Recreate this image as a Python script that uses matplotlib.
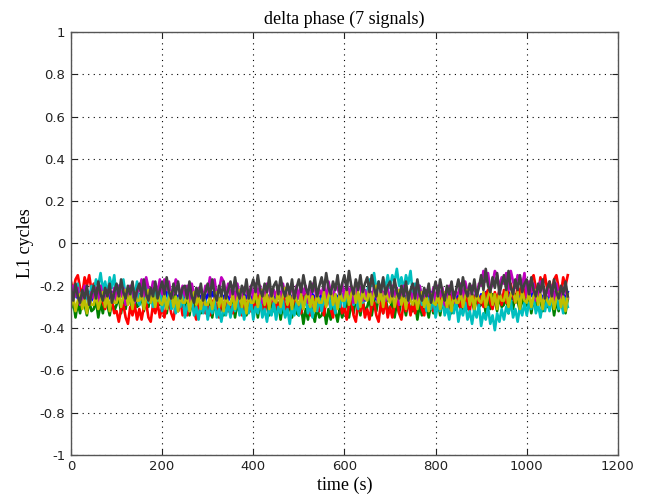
import matplotlib
matplotlib.use("Agg")
import matplotlib.pyplot as plt
import numpy as np

# one value every 5 s, 0 .. 1090 s, in L1 cycles
time_s = np.arange(0, 1091, 5)

sig_blue = [
    -0.24, -0.27, -0.23, -0.26, -0.25, -0.28, -0.24, -0.26, -0.23, -0.27, -0.24, -0.26, -0.23, -0.27, -0.25, -0.28, -0.24, -0.26, -0.23, -0.27,
    -0.24, -0.27, -0.23, -0.26, -0.25, -0.28, -0.24, -0.26, -0.23, -0.27, -0.24, -0.26, -0.23, -0.27, -0.25, -0.28, -0.24, -0.26, -0.23, -0.27,
    -0.24, -0.27, -0.23, -0.26, -0.25, -0.28, -0.24, -0.26, -0.23, -0.27, -0.24, -0.26, -0.23, -0.27, -0.25, -0.28, -0.24, -0.26, -0.23, -0.27,
    -0.24, -0.27, -0.23, -0.26, -0.25, -0.28, -0.24, -0.26, -0.23, -0.27, -0.24, -0.26, -0.23, -0.27, -0.25, -0.28, -0.24, -0.26, -0.23, -0.27,
    -0.24, -0.27, -0.23, -0.26, -0.25, -0.28, -0.24, -0.26, -0.23, -0.27, -0.24, -0.26, -0.23, -0.27, -0.25, -0.28, -0.24, -0.26, -0.23, -0.27,
    -0.24, -0.27, -0.23, -0.26, -0.25, -0.28, -0.24, -0.26, -0.23, -0.27, -0.24, -0.26, -0.23, -0.27, -0.25, -0.28, -0.24, -0.26, -0.23, -0.27,
    -0.24, -0.27, -0.23, -0.26, -0.25, -0.28, -0.24, -0.26, -0.23, -0.27, -0.24, -0.26, -0.23, -0.27, -0.25, -0.28, -0.24, -0.26, -0.23, -0.27,
    -0.24, -0.27, -0.23, -0.26, -0.25, -0.28, -0.24, -0.26, -0.23, -0.27, -0.24, -0.26, -0.23, -0.27, -0.25, -0.28, -0.24, -0.26, -0.23, -0.27,
    -0.24, -0.27, -0.23, -0.26, -0.25, -0.28, -0.24, -0.26, -0.23, -0.27, -0.24, -0.26, -0.23, -0.27, -0.25, -0.28, -0.24, -0.26, -0.23, -0.27,
    -0.24, -0.27, -0.23, -0.26, -0.25, -0.28, -0.24, -0.26, -0.23, -0.27, -0.24, -0.26, -0.23, -0.27, -0.25, -0.28, -0.24, -0.26, -0.23, -0.27,
    -0.24, -0.27, -0.23, -0.26, -0.25, -0.28, -0.24, -0.26, -0.23, -0.27, -0.24, -0.26, -0.23, -0.27, -0.25, -0.28, -0.24, -0.26, -0.23,
]
sig_green = [
    -0.31, -0.27, -0.35, -0.28, -0.33, -0.26, -0.29, -0.34, -0.27, -0.32, -0.31, -0.27, -0.35, -0.28, -0.33, -0.26, -0.29, -0.34, -0.27, -0.32,
    -0.29, -0.25, -0.33, -0.26, -0.31, -0.24, -0.27, -0.32, -0.25, -0.30, -0.29, -0.25, -0.32, -0.26, -0.30, -0.24, -0.28, -0.31, -0.25, -0.29,
    -0.29, -0.25, -0.33, -0.26, -0.31, -0.24, -0.27, -0.32, -0.25, -0.30, -0.30, -0.26, -0.34, -0.27, -0.32, -0.25, -0.28, -0.33, -0.26, -0.31,
    -0.31, -0.27, -0.35, -0.28, -0.33, -0.26, -0.29, -0.34, -0.27, -0.32, -0.31, -0.27, -0.35, -0.28, -0.33, -0.26, -0.29, -0.34, -0.27, -0.32,
    -0.31, -0.27, -0.35, -0.28, -0.33, -0.26, -0.29, -0.34, -0.27, -0.32, -0.32, -0.28, -0.36, -0.29, -0.34, -0.27, -0.30, -0.35, -0.28, -0.33,
    -0.34, -0.30, -0.38, -0.31, -0.36, -0.29, -0.32, -0.37, -0.30, -0.35, -0.34, -0.30, -0.38, -0.31, -0.36, -0.29, -0.32, -0.37, -0.30, -0.35,
    -0.31, -0.27, -0.35, -0.28, -0.33, -0.26, -0.29, -0.34, -0.27, -0.32, -0.30, -0.26, -0.34, -0.27, -0.32, -0.25, -0.28, -0.33, -0.26, -0.31,
    -0.31, -0.27, -0.35, -0.28, -0.33, -0.26, -0.29, -0.34, -0.27, -0.32, -0.32, -0.28, -0.36, -0.29, -0.34, -0.27, -0.30, -0.35, -0.28, -0.33,
    -0.30, -0.26, -0.34, -0.27, -0.32, -0.25, -0.28, -0.33, -0.26, -0.31, -0.29, -0.25, -0.33, -0.26, -0.31, -0.24, -0.27, -0.32, -0.25, -0.30,
    -0.29, -0.25, -0.33, -0.26, -0.31, -0.24, -0.27, -0.32, -0.25, -0.30, -0.29, -0.25, -0.33, -0.26, -0.31, -0.24, -0.27, -0.32, -0.25, -0.30,
    -0.29, -0.25, -0.33, -0.26, -0.31, -0.24, -0.27, -0.32, -0.25, -0.30, -0.30, -0.26, -0.34, -0.27, -0.32, -0.25, -0.28, -0.33, -0.26,
]
sig_red = [
    -0.18, -0.23, -0.17, -0.15, -0.21, -0.24, -0.16, -0.20, -0.15, -0.22, -0.19, -0.25, -0.22, -0.21, -0.28, -0.31, -0.26, -0.30, -0.27, -0.33,
    -0.32, -0.37, -0.31, -0.29, -0.35, -0.38, -0.30, -0.34, -0.29, -0.36, -0.31, -0.36, -0.30, -0.28, -0.35, -0.37, -0.29, -0.33, -0.28, -0.35,
    -0.30, -0.35, -0.29, -0.27, -0.33, -0.36, -0.28, -0.32, -0.27, -0.34, -0.30, -0.34, -0.28, -0.26, -0.32, -0.36, -0.27, -0.31, -0.26, -0.33,
    -0.29, -0.34, -0.28, -0.26, -0.31, -0.35, -0.27, -0.30, -0.25, -0.32, -0.28, -0.33, -0.27, -0.25, -0.31, -0.34, -0.26, -0.30, -0.25, -0.32,
    -0.27, -0.32, -0.26, -0.24, -0.30, -0.33, -0.25, -0.29, -0.24, -0.31, -0.27, -0.32, -0.26, -0.24, -0.30, -0.33, -0.25, -0.29, -0.24, -0.31,
    -0.28, -0.33, -0.26, -0.24, -0.31, -0.34, -0.25, -0.29, -0.24, -0.32, -0.28, -0.34, -0.27, -0.26, -0.31, -0.35, -0.27, -0.30, -0.26, -0.33,
    -0.30, -0.36, -0.29, -0.27, -0.34, -0.37, -0.28, -0.32, -0.27, -0.35, -0.31, -0.36, -0.29, -0.28, -0.34, -0.37, -0.28, -0.33, -0.27, -0.35,
    -0.30, -0.35, -0.29, -0.27, -0.33, -0.36, -0.28, -0.32, -0.27, -0.34, -0.28, -0.33, -0.27, -0.25, -0.31, -0.34, -0.26, -0.30, -0.25, -0.32,
    -0.26, -0.31, -0.25, -0.23, -0.29, -0.32, -0.24, -0.28, -0.23, -0.30, -0.26, -0.31, -0.25, -0.23, -0.29, -0.32, -0.24, -0.28, -0.23, -0.30,
    -0.25, -0.30, -0.24, -0.22, -0.28, -0.31, -0.23, -0.27, -0.22, -0.29, -0.22, -0.28, -0.21, -0.19, -0.25, -0.28, -0.20, -0.24, -0.19, -0.26,
    -0.18, -0.23, -0.17, -0.15, -0.21, -0.24, -0.16, -0.20, -0.15, -0.22, -0.18, -0.23, -0.17, -0.15, -0.21, -0.24, -0.16, -0.20, -0.15,
]
sig_cyan = [
    -0.28, -0.22, -0.25, -0.19, -0.27, -0.23, -0.29, -0.22, -0.26, -0.20, -0.23, -0.17, -0.20, -0.14, -0.22, -0.18, -0.24, -0.16, -0.21, -0.15,
    -0.26, -0.20, -0.23, -0.17, -0.25, -0.21, -0.27, -0.20, -0.24, -0.18, -0.29, -0.23, -0.26, -0.20, -0.28, -0.24, -0.30, -0.23, -0.27, -0.21,
    -0.32, -0.26, -0.29, -0.23, -0.31, -0.27, -0.33, -0.26, -0.30, -0.24, -0.35, -0.29, -0.32, -0.26, -0.34, -0.30, -0.36, -0.29, -0.33, -0.27,
    -0.36, -0.30, -0.33, -0.27, -0.35, -0.31, -0.37, -0.30, -0.34, -0.28, -0.35, -0.29, -0.32, -0.26, -0.34, -0.30, -0.36, -0.29, -0.33, -0.27,
    -0.36, -0.30, -0.33, -0.27, -0.35, -0.31, -0.37, -0.30, -0.34, -0.28, -0.36, -0.30, -0.33, -0.27, -0.35, -0.31, -0.38, -0.30, -0.34, -0.28,
    -0.34, -0.28, -0.31, -0.25, -0.33, -0.29, -0.35, -0.28, -0.32, -0.26, -0.32, -0.26, -0.29, -0.23, -0.31, -0.27, -0.33, -0.26, -0.30, -0.24,
    -0.30, -0.24, -0.27, -0.21, -0.29, -0.25, -0.31, -0.24, -0.28, -0.22, -0.23, -0.17, -0.20, -0.14, -0.22, -0.18, -0.24, -0.17, -0.21, -0.15,
    -0.21, -0.15, -0.18, -0.12, -0.20, -0.16, -0.22, -0.15, -0.19, -0.13, -0.24, -0.19, -0.25, -0.20, -0.29, -0.25, -0.32, -0.26, -0.31, -0.25,
    -0.35, -0.29, -0.32, -0.26, -0.34, -0.30, -0.36, -0.29, -0.33, -0.27, -0.37, -0.31, -0.34, -0.28, -0.36, -0.32, -0.38, -0.31, -0.35, -0.29,
    -0.39, -0.33, -0.36, -0.30, -0.38, -0.34, -0.41, -0.33, -0.37, -0.31, -0.36, -0.30, -0.33, -0.27, -0.35, -0.31, -0.37, -0.30, -0.34, -0.28,
    -0.34, -0.28, -0.31, -0.25, -0.33, -0.29, -0.35, -0.28, -0.32, -0.26, -0.32, -0.26, -0.29, -0.23, -0.31, -0.27, -0.33, -0.26, -0.30,
]
sig_magenta = [
    -0.27, -0.20, -0.25, -0.21, -0.29, -0.26, -0.20, -0.22, -0.28, -0.23, -0.26, -0.21, -0.29, -0.20, -0.25, -0.28, -0.22, -0.23, -0.27, -0.21,
    -0.27, -0.20, -0.25, -0.21, -0.29, -0.26, -0.20, -0.22, -0.28, -0.23, -0.22, -0.17, -0.25, -0.16, -0.21, -0.24, -0.18, -0.19, -0.23, -0.17,
    -0.24, -0.17, -0.22, -0.18, -0.26, -0.23, -0.17, -0.19, -0.25, -0.20, -0.25, -0.20, -0.28, -0.19, -0.24, -0.27, -0.21, -0.22, -0.26, -0.20,
    -0.23, -0.16, -0.21, -0.17, -0.25, -0.22, -0.16, -0.18, -0.24, -0.19, -0.25, -0.20, -0.28, -0.19, -0.24, -0.27, -0.21, -0.22, -0.26, -0.20,
    -0.26, -0.19, -0.24, -0.20, -0.28, -0.25, -0.19, -0.21, -0.27, -0.22, -0.25, -0.20, -0.28, -0.19, -0.24, -0.27, -0.21, -0.22, -0.26, -0.20,
    -0.26, -0.19, -0.24, -0.20, -0.28, -0.25, -0.19, -0.21, -0.27, -0.22, -0.24, -0.19, -0.27, -0.18, -0.23, -0.26, -0.20, -0.21, -0.25, -0.19,
    -0.26, -0.19, -0.24, -0.20, -0.28, -0.25, -0.19, -0.21, -0.27, -0.22, -0.26, -0.21, -0.29, -0.20, -0.25, -0.28, -0.22, -0.23, -0.27, -0.21,
    -0.27, -0.20, -0.25, -0.21, -0.29, -0.26, -0.20, -0.22, -0.28, -0.23, -0.26, -0.21, -0.29, -0.20, -0.25, -0.28, -0.22, -0.23, -0.27, -0.21,
    -0.27, -0.20, -0.25, -0.21, -0.29, -0.26, -0.20, -0.22, -0.28, -0.23, -0.24, -0.19, -0.27, -0.18, -0.23, -0.26, -0.20, -0.21, -0.25, -0.19,
    -0.20, -0.13, -0.18, -0.14, -0.22, -0.19, -0.13, -0.15, -0.21, -0.16, -0.19, -0.14, -0.22, -0.13, -0.18, -0.21, -0.15, -0.16, -0.20, -0.14,
    -0.25, -0.18, -0.23, -0.19, -0.27, -0.24, -0.18, -0.20, -0.26, -0.21, -0.25, -0.20, -0.28, -0.19, -0.24, -0.27, -0.21, -0.22, -0.26,
]
sig_yellow = [
    -0.30, -0.25, -0.32, -0.27, -0.24, -0.31, -0.26, -0.33, -0.25, -0.29, -0.29, -0.24, -0.31, -0.27, -0.23, -0.30, -0.25, -0.32, -0.24, -0.28,
    -0.28, -0.23, -0.30, -0.25, -0.22, -0.29, -0.24, -0.31, -0.23, -0.27, -0.27, -0.23, -0.31, -0.26, -0.22, -0.28, -0.24, -0.30, -0.23, -0.28,
    -0.29, -0.24, -0.31, -0.26, -0.23, -0.30, -0.25, -0.32, -0.24, -0.28, -0.28, -0.24, -0.32, -0.27, -0.23, -0.29, -0.25, -0.31, -0.24, -0.29,
    -0.29, -0.25, -0.31, -0.26, -0.23, -0.30, -0.24, -0.32, -0.25, -0.28, -0.29, -0.24, -0.31, -0.26, -0.22, -0.30, -0.25, -0.33, -0.24, -0.28,
    -0.28, -0.23, -0.30, -0.25, -0.22, -0.29, -0.24, -0.31, -0.23, -0.27, -0.28, -0.22, -0.30, -0.25, -0.21, -0.29, -0.24, -0.31, -0.23, -0.27,
    -0.29, -0.24, -0.31, -0.26, -0.23, -0.30, -0.25, -0.32, -0.24, -0.28, -0.28, -0.23, -0.30, -0.25, -0.22, -0.29, -0.24, -0.31, -0.23, -0.27,
    -0.27, -0.22, -0.29, -0.24, -0.21, -0.28, -0.23, -0.30, -0.22, -0.26, -0.27, -0.21, -0.29, -0.24, -0.20, -0.28, -0.23, -0.30, -0.22, -0.26,
    -0.28, -0.23, -0.30, -0.25, -0.22, -0.29, -0.24, -0.31, -0.23, -0.27, -0.29, -0.24, -0.31, -0.26, -0.23, -0.30, -0.25, -0.32, -0.24, -0.28,
    -0.29, -0.24, -0.31, -0.26, -0.23, -0.30, -0.25, -0.32, -0.24, -0.28, -0.28, -0.23, -0.30, -0.25, -0.22, -0.29, -0.24, -0.31, -0.23, -0.27,
    -0.28, -0.23, -0.30, -0.25, -0.22, -0.29, -0.24, -0.31, -0.23, -0.27, -0.27, -0.22, -0.30, -0.24, -0.22, -0.28, -0.23, -0.31, -0.22, -0.27,
    -0.28, -0.23, -0.30, -0.25, -0.22, -0.29, -0.24, -0.31, -0.23, -0.27, -0.29, -0.24, -0.31, -0.26, -0.23, -0.30, -0.25, -0.32, -0.24,
]
sig_black = [
    -0.21, -0.27, -0.19, -0.25, -0.28, -0.22, -0.26, -0.20, -0.29, -0.24, -0.20, -0.26, -0.18, -0.24, -0.27, -0.21, -0.25, -0.19, -0.28, -0.23,
    -0.19, -0.25, -0.17, -0.23, -0.26, -0.20, -0.24, -0.18, -0.27, -0.22, -0.19, -0.25, -0.17, -0.24, -0.27, -0.21, -0.25, -0.18, -0.26, -0.22,
    -0.18, -0.24, -0.16, -0.23, -0.26, -0.19, -0.24, -0.18, -0.26, -0.21, -0.20, -0.26, -0.18, -0.25, -0.28, -0.21, -0.25, -0.19, -0.27, -0.23,
    -0.19, -0.25, -0.17, -0.24, -0.27, -0.20, -0.25, -0.18, -0.26, -0.22, -0.18, -0.24, -0.16, -0.23, -0.26, -0.20, -0.24, -0.17, -0.26, -0.21,
    -0.17, -0.23, -0.15, -0.22, -0.25, -0.19, -0.23, -0.16, -0.25, -0.20, -0.18, -0.24, -0.16, -0.22, -0.25, -0.19, -0.24, -0.17, -0.26, -0.21,
    -0.17, -0.23, -0.15, -0.21, -0.24, -0.18, -0.23, -0.16, -0.25, -0.20, -0.16, -0.22, -0.14, -0.21, -0.24, -0.18, -0.22, -0.15, -0.24, -0.19,
    -0.15, -0.22, -0.13, -0.20, -0.24, -0.17, -0.22, -0.15, -0.23, -0.19, -0.16, -0.23, -0.15, -0.21, -0.25, -0.18, -0.23, -0.16, -0.24, -0.20,
    -0.18, -0.25, -0.17, -0.23, -0.26, -0.20, -0.25, -0.18, -0.27, -0.22, -0.19, -0.26, -0.17, -0.24, -0.27, -0.21, -0.25, -0.19, -0.28, -0.23,
    -0.18, -0.25, -0.17, -0.23, -0.27, -0.20, -0.24, -0.18, -0.26, -0.22, -0.17, -0.24, -0.16, -0.22, -0.25, -0.19, -0.24, -0.17, -0.25, -0.21,
    -0.15, -0.22, -0.12, -0.20, -0.23, -0.16, -0.21, -0.14, -0.24, -0.19, -0.15, -0.22, -0.13, -0.21, -0.24, -0.17, -0.22, -0.15, -0.23, -0.19,
    -0.17, -0.24, -0.16, -0.22, -0.25, -0.19, -0.23, -0.17, -0.26, -0.21, -0.18, -0.25, -0.17, -0.23, -0.26, -0.20, -0.24, -0.18, -0.25,
]

signals = [sig_blue, sig_green, sig_red, sig_cyan, sig_magenta, sig_yellow, sig_black]
# old matlab "lines" colour order
colors = ["#0000ff", "#008000", "#ff0000", "#00bfbf", "#bf00bf", "#bfbf00", "#404040"]

x_ticks = [0, 200, 400, 600, 800, 1000, 1200]
y_ticks = [-1, -0.8, -0.6, -0.4, -0.2, 0, 0.2, 0.4, 0.6, 0.8, 1]
y_tick_labels = ["-1", "-0.8", "-0.6", "-0.4", "-0.2", "0", "0.2", "0.4", "0.6", "0.8", "1"]

fig = plt.figure(figsize=(6.45, 5.01), dpi=100)
ax = fig.add_axes([0.110, 0.092, 0.848, 0.844])

for s, c in zip(signals, colors):
    ax.plot(time_s, s, color=c, linewidth=1.9)

ax.set_xlim(0, 1200)
ax.set_ylim(-1, 1)
ax.set_xticks(x_ticks)
ax.set_yticks(y_ticks)
ax.set_yticklabels(y_tick_labels)
ax.grid(True, color="black", linestyle=(0, (1, 4)), linewidth=0.8)
ax.tick_params(direction="in", top=True, right=True, length=4, colors="#222222",
               labelsize=9.5, pad=4)
for lab in ax.get_xticklabels() + ax.get_yticklabels():
    lab.set_family(["Liberation Sans Narrow", "DejaVu Sans"])
for sp in ax.spines.values():
    sp.set_color("#555555")
    sp.set_linewidth(1.0)

serif = ["Liberation Serif", "DejaVu Serif"]
ax.set_title("delta phase (7 signals)", family=serif, fontsize=13, pad=6)
ax.set_xlabel("time (s)", family=serif, fontsize=13, labelpad=2)
ax.set_ylabel("L1 cycles", family=serif, fontsize=13, labelpad=4)

fig.savefig("out.png", dpi=100)
